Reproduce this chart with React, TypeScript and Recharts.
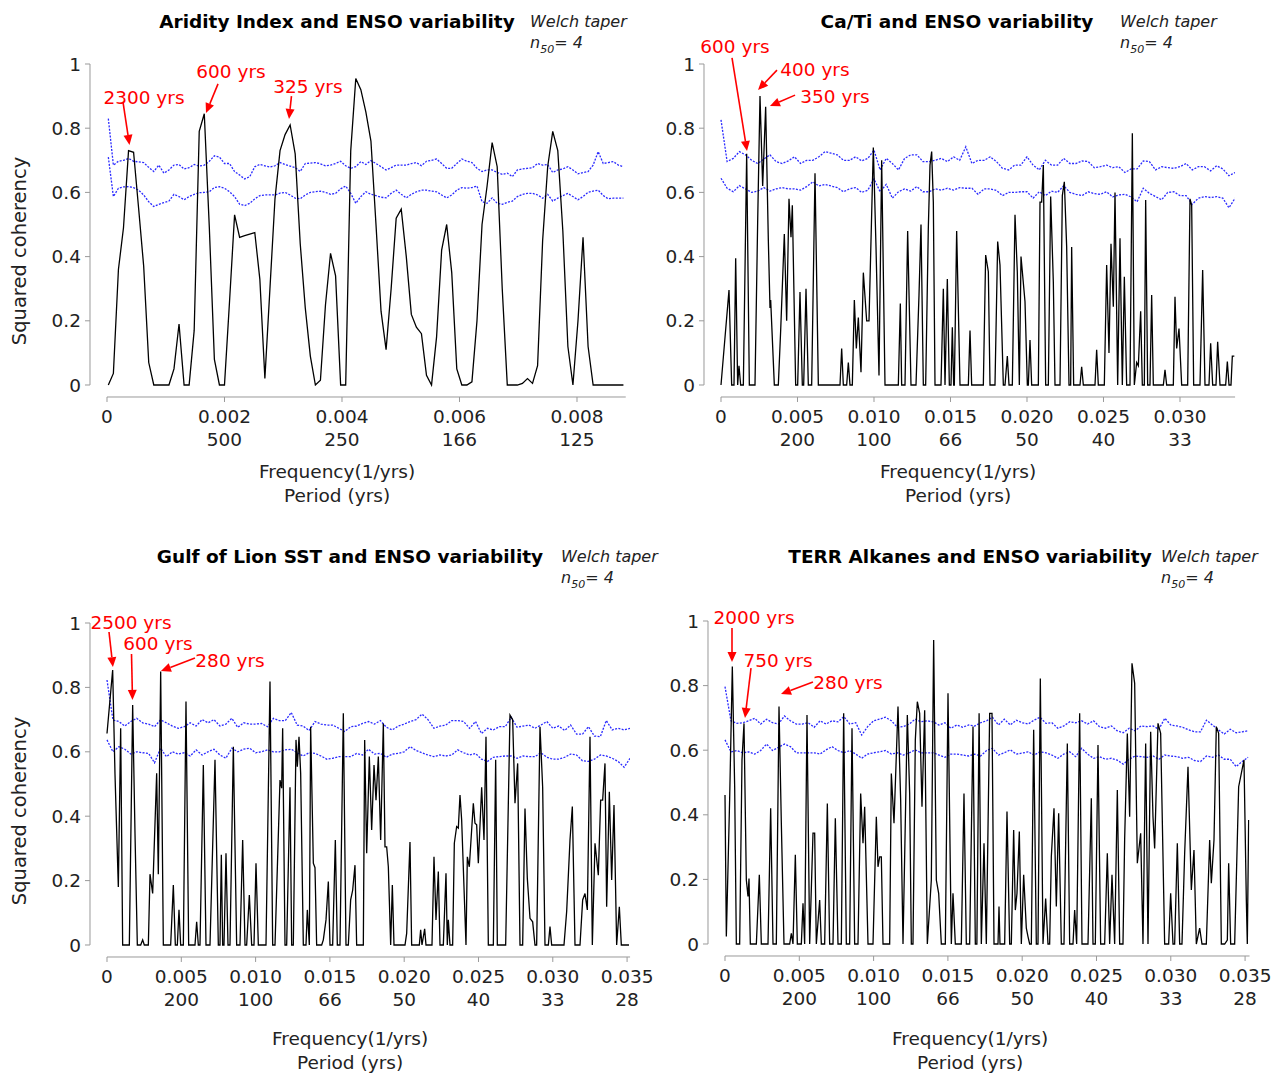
import React from 'react';
import { LineChart, Line, XAxis, YAxis, ReferenceLine, ReferenceDot } from 'recharts';

const FONT = '"DejaVu Sans", Verdana, sans-serif';

// ---------- Panel 1: Aridity Index (regular grid, frequency in 1e-3 / yr) ----------
const aridityStartK = 0.0227;
const aridityStepK = 0.08596;
const aridityCoherency = [
  0, 0.036, 0.36, 0.49, 0.73, 0.725, 0.55, 0.37, 0.07, 0,
  0, 0, 0, 0.05, 0.19, 0, 0, 0.17, 0.79, 0.845,
  0.49, 0.08, 0, 0, 0.26, 0.53, 0.46, 0.465, 0.47, 0.475,
  0.33, 0.02, 0.3, 0.58, 0.73, 0.78, 0.81, 0.72, 0.44, 0.24,
  0.09, 0, 0.015, 0.25, 0.41, 0.34, 0, 0, 0.73, 0.955,
  0.92, 0.85, 0.76, 0.5, 0.23, 0.11, 0.3, 0.52, 0.548, 0.4,
  0.22, 0.18, 0.16, 0.03, 0, 0.15, 0.42, 0.5, 0.35, 0.05,
  0, 0, 0.01, 0.2, 0.5, 0.62, 0.755, 0.68, 0.3, 0,
  0, 0, 0.005, 0.02, 0.005, 0.06, 0.45, 0.68, 0.79, 0.73,
  0.48, 0.12, 0, 0.2, 0.46, 0.12, 0, 0, 0, 0,
  0, 0, 0,
];
const aridityUpper = [
  0.83, 0.685, 0.697, 0.7, 0.706, 0.697, 0.695, 0.693, 0.678, 0.665,
  0.685, 0.66, 0.67, 0.685, 0.687, 0.673, 0.677, 0.687, 0.682, 0.685,
  0.697, 0.714, 0.71, 0.69, 0.69, 0.665, 0.654, 0.642, 0.649, 0.68,
  0.687, 0.683, 0.679, 0.683, 0.693, 0.687, 0.682, 0.677, 0.665, 0.69,
  0.691, 0.693, 0.689, 0.683, 0.685, 0.69, 0.697, 0.683, 0.675, 0.68,
  0.696, 0.687, 0.699, 0.69, 0.68, 0.67, 0.677, 0.685, 0.685, 0.685,
  0.69, 0.693, 0.683, 0.697, 0.7, 0.704, 0.69, 0.675, 0.675, 0.69,
  0.704, 0.697, 0.693, 0.675, 0.665, 0.67, 0.67, 0.662, 0.656, 0.66,
  0.649, 0.67, 0.673, 0.675, 0.677, 0.69, 0.685, 0.687, 0.662, 0.67,
  0.673, 0.68, 0.67, 0.658, 0.662, 0.665, 0.685, 0.727, 0.69, 0.693,
  0.696, 0.685, 0.68,
];
const aridityLower = [
  0.71, 0.587, 0.613, 0.617, 0.618, 0.615, 0.607, 0.592, 0.571, 0.556,
  0.563, 0.568, 0.573, 0.594, 0.587, 0.577, 0.587, 0.594, 0.599, 0.6,
  0.602, 0.615, 0.618, 0.613, 0.602, 0.587, 0.563, 0.559, 0.566, 0.58,
  0.59, 0.592, 0.592, 0.592, 0.598, 0.6, 0.592, 0.582, 0.58, 0.592,
  0.6, 0.602, 0.604, 0.6, 0.594, 0.597, 0.611, 0.62, 0.597, 0.566,
  0.587, 0.602, 0.594, 0.59, 0.585, 0.583, 0.597, 0.607, 0.594, 0.583,
  0.594, 0.602, 0.607, 0.607, 0.604, 0.602, 0.592, 0.583, 0.592, 0.607,
  0.615, 0.613, 0.615, 0.62, 0.571, 0.566, 0.583, 0.566, 0.563, 0.569,
  0.573, 0.587, 0.594, 0.597, 0.597, 0.592, 0.582, 0.594, 0.573, 0.582,
  0.59, 0.597, 0.587, 0.577, 0.587, 0.6, 0.604, 0.607, 0.59, 0.58,
  0.582, 0.582, 0.582,
];

// ---------- Panel 2: Ca/Ti (coherency vertices [freq 1e-3/yr, value]) ----------
const caTiCoherency: [number, number][] = [
  [0, 0], [0.523, 0.296], [0.697, 0], [0.85, 0], [0.959, 0.395], [1.089, 0], [1.176, 0.06], [1.285, 0],
  [1.46, 0], [1.678, 0.72], [1.852, 0], [2.222, 0], [2.397, 0.51], [2.549, 0.9], [2.723, 0.62], [2.919, 0.867],
  [3.094, 0.45], [3.203, 0.24], [3.246, 0.265], [3.486, 0], [3.747, 0], [3.9, 0.17], [4.139, 0.47], [4.292, 0.2],
  [4.444, 0.58], [4.575, 0.46], [4.662, 0.56], [4.88, 0], [5.011, 0], [5.163, 0.29], [5.316, 0], [5.403, 0],
  [5.556, 0.3], [5.708, 0], [5.926, 0], [6.144, 0.66], [6.362, 0], [7.778, 0], [7.887, 0.114], [7.996, 0],
  [8.214, 0], [8.322, 0.07], [8.431, 0], [8.584, 0], [8.715, 0.265], [8.845, 0.114], [8.976, 0.21], [9.15, 0.04],
  [9.303, 0.35], [9.521, 0.2], [9.673, 0.2], [9.804, 0.45], [9.956, 0.74], [10.131, 0.43], [10.327, 0.03], [10.501, 0.7],
  [10.719, 0], [11.59, 0], [11.721, 0.254], [11.808, 0], [12.026, 0], [12.2, 0.48], [12.418, 0], [12.745, 0],
  [12.941, 0.28], [13.072, 0.5], [13.224, 0], [13.377, 0], [13.551, 0.49], [13.66, 0.685], [13.769, 0.727], [13.878, 0.57],
  [13.987, 0], [14.379, 0], [14.532, 0.3], [14.641, 0], [14.793, 0.33], [14.924, 0], [15.033, 0], [15.12, 0.18],
  [15.207, 0], [15.251, 0], [15.403, 0.48], [15.621, 0], [16.166, 0], [16.275, 0.17], [16.383, 0], [17.146, 0],
  [17.298, 0.405], [17.473, 0.353], [17.582, 0], [17.908, 0], [18.083, 0.447], [18.235, 0.374], [18.453, 0], [18.562, 0],
  [18.715, 0.09], [18.824, 0], [19.041, 0], [19.216, 0.53], [19.368, 0.35], [19.499, 0], [19.608, 0.4], [19.869, 0.26],
  [20.022, 0], [20.087, 0], [20.196, 0.14], [20.305, 0], [20.741, 0], [20.85, 0.57], [20.959, 0.57], [21.068, 0.685],
  [21.22, 0], [21.394, 0], [21.547, 0.587], [21.721, 0.32], [21.83, 0], [22.157, 0], [22.309, 0.59], [22.44, 0.633],
  [22.593, 0.43], [22.745, 0], [22.854, 0], [22.919, 0.43], [23.05, 0], [23.464, 0], [23.573, 0.057], [23.682, 0],
  [24.444, 0], [24.553, 0.11], [24.662, 0], [25.054, 0], [25.207, 0.374], [25.359, 0.1], [25.49, 0.44], [25.643, 0.244],
  [25.752, 0.6], [25.926, 0], [26.078, 0.457], [26.231, 0], [26.362, 0.337], [26.514, 0], [26.732, 0], [26.885, 0.784],
  [27.015, 0], [27.168, 0.07], [27.277, 0.06], [27.429, 0.23], [27.538, 0], [27.669, 0], [27.756, 0.576], [27.887, 0],
  [28.039, 0], [28.148, 0.28], [28.257, 0], [28.911, 0], [29.02, 0.047], [29.129, 0], [29.564, 0], [29.673, 0.275],
  [29.782, 0.114], [29.935, 0.176], [30.109, 0], [30.501, 0], [30.654, 0.58], [30.763, 0.56], [30.893, 0], [31.307, 0],
  [31.481, 0.358], [31.634, 0], [31.895, 0], [32.004, 0.13], [32.135, 0], [32.353, 0], [32.462, 0.135], [32.614, 0],
  [32.985, 0], [33.094, 0.073], [33.203, 0], [33.333, 0], [33.42, 0.09], [33.551, 0.09],
];
const bandStepK = 0.4;
const caTiUpper = [
  0.826, 0.696, 0.706, 0.727, 0.717, 0.7, 0.69, 0.704, 0.717, 0.696,
  0.69, 0.698, 0.711, 0.69, 0.7, 0.7, 0.711, 0.727, 0.722, 0.717,
  0.7, 0.7, 0.711, 0.698, 0.706, 0.732, 0.67, 0.706, 0.69, 0.67,
  0.706, 0.717, 0.717, 0.696, 0.696, 0.7, 0.706, 0.696, 0.711, 0.7,
  0.742, 0.69, 0.7, 0.7, 0.711, 0.696, 0.675, 0.67, 0.685, 0.685,
  0.711, 0.685, 0.67, 0.7, 0.685, 0.685, 0.706, 0.69, 0.69, 0.698,
  0.696, 0.677, 0.68, 0.685, 0.677, 0.68, 0.662, 0.673, 0.673, 0.698,
  0.696, 0.67, 0.68, 0.677, 0.675, 0.68, 0.69, 0.67, 0.68, 0.68,
  0.667, 0.683, 0.673, 0.652, 0.662,
];
const caTiLower = [
  0.644, 0.613, 0.602, 0.621, 0.611, 0.6, 0.604, 0.615, 0.604, 0.611,
  0.615, 0.611, 0.611, 0.607, 0.618, 0.633, 0.62, 0.625, 0.62, 0.615,
  0.602, 0.611, 0.615, 0.6, 0.607, 0.642, 0.602, 0.625, 0.582, 0.602,
  0.611, 0.604, 0.618, 0.602, 0.602, 0.611, 0.607, 0.613, 0.607, 0.615,
  0.613, 0.613, 0.594, 0.611, 0.611, 0.606, 0.59, 0.6, 0.6, 0.602,
  0.602, 0.582, 0.602, 0.59, 0.604, 0.6, 0.621, 0.6, 0.594, 0.59,
  0.602, 0.596, 0.594, 0.602, 0.586, 0.592, 0.594, 0.586, 0.571, 0.613,
  0.597, 0.587, 0.577, 0.6, 0.602, 0.59, 0.59, 0.563, 0.582, 0.587,
  0.584, 0.587, 0.582, 0.552, 0.582,
];

// ---------- Panel 3: Gulf of Lion SST ----------
const sstCoherency: [number, number][] = [
  [0, 0.657], [0.381, 0.854], [0.538, 0.53], [0.763, 0.18], [0.92, 0.673], [1.054, 0], [1.503, 0], [1.727, 0.745],
  [1.884, 0.347], [2.041, 0], [2.266, 0], [2.4, 0.016], [2.512, 0], [2.782, 0], [2.894, 0.22], [3.073, 0.16],
  [3.342, 0.533], [3.454, 0.22], [3.612, 0.849], [3.791, 0], [4.284, 0], [4.464, 0.186], [4.599, 0], [4.733, 0],
  [4.845, 0.109], [4.957, 0], [5.137, 0], [5.316, 0.756], [5.496, 0], [5.922, 0], [6.034, 0.072], [6.146, 0],
  [6.258, 0], [6.483, 0.559], [6.662, 0], [6.931, 0], [7.268, 0.575], [7.492, 0], [7.604, 0], [7.694, 0.28],
  [7.784, 0], [7.873, 0], [8.008, 0.285], [8.143, 0], [8.277, 0], [8.502, 0.616], [8.726, 0], [8.95, 0],
  [9.13, 0.326], [9.287, 0], [9.399, 0], [9.578, 0.155], [9.735, 0], [9.892, 0], [10.027, 0.254], [10.184, 0],
  [10.7, 0], [10.969, 0.818], [11.149, 0], [11.306, 0], [11.642, 0.512], [11.754, 0.487], [11.821, 0.673], [11.979, 0],
  [12.091, 0], [12.315, 0.49], [12.427, 0], [12.539, 0], [12.719, 0.637], [12.808, 0.554], [12.921, 0.647], [13.033, 0.533],
  [13.212, 0], [13.392, 0], [13.481, 0.109], [13.616, 0], [13.705, 0.678], [13.885, 0.254], [13.997, 0.24], [14.109, 0],
  [14.446, 0], [14.558, 0.016], [14.738, 0.078], [14.895, 0.197], [15.007, 0], [15.186, 0], [15.366, 0.326], [15.5, 0],
  [15.68, 0], [15.904, 0.72], [16.083, 0], [16.24, 0], [16.397, 0.14], [16.532, 0.17], [16.689, 0.248], [16.801, 0],
  [17.25, 0], [17.34, 0.637], [17.475, 0.285], [17.654, 0.585], [17.811, 0.357], [17.969, 0.559], [18.103, 0.45], [18.26, 0.585],
  [18.417, 0.326], [18.596, 0.688], [18.708, 0.305], [18.82, 0.305], [18.933, 0.243], [19.09, 0], [19.202, 0.186], [19.314, 0],
  [20.054, 0], [20.166, 0.036], [20.39, 0.32], [20.502, 0], [21.018, 0], [21.108, 0.047], [21.198, 0], [21.377, 0.05],
  [21.467, 0], [21.871, 0], [22.005, 0.274], [22.14, 0.078], [22.297, 0.228], [22.409, 0], [22.633, 0], [22.813, 0.223],
  [22.902, 0], [22.97, 0.078], [23.082, 0], [23.261, 0], [23.374, 0.316], [23.531, 0.368], [23.643, 0.363], [23.755, 0.466],
  [23.867, 0.388], [24.159, 0], [24.249, 0.274], [24.383, 0.243], [24.652, 0.44], [24.764, 0.378], [24.877, 0.373], [24.989, 0.254],
  [25.213, 0.49], [25.37, 0.326], [25.505, 0.647], [25.662, 0], [25.999, 0], [26.156, 0.575], [26.268, 0], [26.828, 0],
  [27.12, 0.714], [27.299, 0.7], [27.456, 0.44], [27.636, 0.564], [27.793, 0], [27.972, 0], [28.129, 0.424], [28.286, 0.207],
  [28.466, 0.083], [28.645, 0.072], [28.802, 0], [28.914, 0], [29.139, 0.678], [29.318, 0.49], [29.475, 0], [29.7, 0],
  [29.812, 0.057], [29.924, 0], [30.754, 0], [30.933, 0.104], [31.158, 0.326], [31.315, 0.43], [31.494, 0], [31.831, 0],
  [32.01, 0.14], [32.167, 0.16], [32.324, 0.109], [32.504, 0.647], [32.661, 0], [32.84, 0.316], [33.064, 0.217], [33.221, 0.45],
  [33.356, 0.45], [33.513, 0.564], [33.625, 0.119], [33.805, 0.476], [33.962, 0.202], [34.119, 0.435], [34.298, 0], [34.478, 0.119],
  [34.612, 0], [35.128, 0],
];
const sstUpper = [
  0.823, 0.699, 0.694, 0.68, 0.694, 0.704, 0.69, 0.686, 0.678, 0.699,
  0.69, 0.68, 0.673, 0.678, 0.69, 0.68, 0.7, 0.69, 0.7, 0.68,
  0.686, 0.704, 0.676, 0.69, 0.686, 0.686, 0.688, 0.678, 0.704, 0.697,
  0.697, 0.722, 0.683, 0.68, 0.666, 0.694, 0.686, 0.683, 0.683, 0.673,
  0.663, 0.678, 0.68, 0.688, 0.694, 0.686, 0.697, 0.676, 0.668, 0.68,
  0.686, 0.694, 0.7, 0.717, 0.7, 0.673, 0.68, 0.683, 0.697, 0.697,
  0.694, 0.673, 0.694, 0.657, 0.673, 0.668, 0.678, 0.678, 0.707, 0.676,
  0.68, 0.683, 0.673, 0.683, 0.694, 0.673, 0.68, 0.666, 0.683, 0.655,
  0.655, 0.678, 0.649, 0.647, 0.697, 0.668, 0.673, 0.668, 0.673,
];
const sstLower = [
  0.637, 0.6, 0.616, 0.608, 0.593, 0.6, 0.597, 0.595, 0.566, 0.611,
  0.585, 0.6, 0.593, 0.597, 0.587, 0.606, 0.59, 0.6, 0.608, 0.59,
  0.58, 0.611, 0.6, 0.608, 0.611, 0.597, 0.6, 0.606, 0.6, 0.6,
  0.606, 0.608, 0.597, 0.587, 0.597, 0.595, 0.587, 0.577, 0.58, 0.585,
  0.585, 0.585, 0.595, 0.59, 0.608, 0.593, 0.595, 0.583, 0.593, 0.595,
  0.6, 0.616, 0.604, 0.597, 0.59, 0.585, 0.59, 0.587, 0.59, 0.606,
  0.597, 0.59, 0.595, 0.577, 0.57, 0.583, 0.585, 0.587, 0.587, 0.58,
  0.587, 0.585, 0.585, 0.597, 0.583, 0.577, 0.577, 0.583, 0.593, 0.59,
  0.572, 0.57, 0.577, 0.59, 0.587, 0.58, 0.57, 0.552, 0.58,
];

// ---------- Panel 4: TERR Alkanes ----------
const terrCoherency: [number, number][] = [
  [0, 0.461], [0.09, 0.023], [0.314, 0.45], [0.493, 0.859], [0.651, 0.487], [0.763, 0], [0.987, 0], [1.144, 0.57],
  [1.279, 0.683], [1.436, 0.198], [1.548, 0.147], [1.615, 0.203], [1.705, 0], [2.109, 0], [2.31, 0.214], [2.445, 0],
  [2.894, 0], [3.073, 0.42], [3.23, 0], [3.454, 0], [3.634, 0.735], [3.791, 0.374], [3.97, 0], [4.352, 0],
  [4.464, 0.033], [4.576, 0], [4.733, 0.276], [4.868, 0], [5.137, 0], [5.249, 0.126], [5.361, 0], [5.518, 0.709],
  [5.698, 0], [5.922, 0.343], [6.034, 0.343], [6.146, 0], [6.371, 0.136], [6.483, 0], [6.707, 0], [6.887, 0.435],
  [7.043, 0], [7.268, 0], [7.425, 0.389], [7.604, 0], [7.829, 0], [7.986, 0.714], [8.165, 0], [8.389, 0],
  [8.547, 0.668], [8.726, 0], [8.95, 0], [9.13, 0.466], [9.287, 0.312], [9.399, 0.425], [9.623, 0], [9.96, 0],
  [10.184, 0.394], [10.296, 0.239], [10.408, 0.27], [10.52, 0.27], [10.633, 0], [11.081, 0], [11.193, 0.528], [11.373, 0.374],
  [11.642, 0.735], [11.821, 0.446], [11.979, 0], [12.27, 0.709], [12.427, 0.466], [12.539, 0], [12.651, 0], [12.808, 0.632],
  [12.943, 0.75], [13.1, 0.714], [13.257, 0.425], [13.437, 0.724], [13.616, 0], [13.885, 0.198], [14.042, 0.941], [14.222, 0.198],
  [14.379, 0.157], [14.558, 0], [14.827, 0], [15.007, 0.776], [15.231, 0], [15.343, 0.157], [15.5, 0], [15.904, 0],
  [16.083, 0.466], [16.24, 0], [16.465, 0], [16.689, 0.673], [16.846, 0], [16.95, 0], [17.1, 0.714], [17.25, 0],
  [17.43, 0.312], [17.586, 0], [17.811, 0.714], [17.968, 0.714], [18.103, 0], [18.372, 0], [18.439, 0.116], [18.506, 0],
  [18.82, 0], [18.977, 0.41], [19.157, 0], [19.269, 0], [19.426, 0.353], [19.538, 0.105], [19.65, 0.157], [19.807, 0.348],
  [19.942, 0], [20.099, 0.214], [20.278, 0.049], [20.39, 0.023], [20.502, 0], [20.615, 0], [20.772, 0.663], [20.951, 0],
  [21.063, 0], [21.22, 0.822], [21.4, 0], [21.579, 0.141], [21.736, 0], [21.848, 0], [21.96, 0.27], [22.14, 0.42],
  [22.297, 0.116], [22.454, 0.405], [22.633, 0], [22.813, 0], [23.037, 0.621], [23.194, 0], [23.419, 0], [23.531, 0.105],
  [23.665, 0], [23.867, 0.714], [24.024, 0], [24.428, 0], [24.652, 0.451], [24.764, 0], [24.921, 0], [25.101, 0.616],
  [25.28, 0], [25.549, 0], [25.729, 0.281], [25.886, 0], [26.043, 0.214], [26.223, 0], [26.402, 0.477], [26.559, 0],
  [26.783, 0], [26.896, 0.327], [27.075, 0.652], [27.232, 0.394], [27.389, 0.869], [27.569, 0.807], [27.748, 0.25], [27.972, 0.343],
  [28.129, 0], [28.309, 0.621], [28.466, 0], [28.645, 0.657], [28.802, 0.394], [28.914, 0.296], [29.139, 0.683], [29.318, 0.652],
  [29.587, 0], [29.857, 0], [29.991, 0.157], [30.148, 0], [30.26, 0], [30.44, 0.312], [30.597, 0], [30.754, 0],
  [30.933, 0.281], [31.158, 0.549], [31.382, 0.167], [31.561, 0.291], [31.718, 0], [31.943, 0.049], [32.1, 0], [32.391, 0],
  [32.616, 0.322], [32.728, 0.188], [32.907, 0.322], [33.064, 0.673], [33.221, 0.652], [33.401, 0], [33.625, 0], [33.805, 0.012],
  [33.894, 0.25], [34.029, 0], [34.298, 0], [34.567, 0.487], [34.746, 0.528], [34.926, 0.57], [35.083, 0.136], [35.15, 0],
  [35.24, 0.384],
];
const terrUpper = [
  0.797, 0.691, 0.683, 0.685, 0.691, 0.699, 0.681, 0.696, 0.685, 0.681,
  0.706, 0.691, 0.681, 0.681, 0.685, 0.671, 0.691, 0.681, 0.691, 0.688,
  0.704, 0.681, 0.685, 0.647, 0.673, 0.691, 0.696, 0.702, 0.691, 0.671,
  0.673, 0.681, 0.696, 0.688, 0.691, 0.688, 0.678, 0.685, 0.668, 0.678,
  0.671, 0.678, 0.675, 0.685, 0.691, 0.702, 0.678, 0.696, 0.678, 0.693,
  0.685, 0.681, 0.693, 0.702, 0.683, 0.685, 0.668, 0.675, 0.688, 0.685,
  0.691, 0.681, 0.691, 0.673, 0.668, 0.675, 0.66, 0.654, 0.668, 0.66,
  0.675, 0.673, 0.675, 0.665, 0.699, 0.678, 0.675, 0.671, 0.663, 0.657,
  0.657, 0.693, 0.678, 0.663, 0.65, 0.665, 0.654, 0.657, 0.66,
];
const terrLower = [
  0.632, 0.595, 0.599, 0.592, 0.595, 0.588, 0.599, 0.619, 0.599, 0.609,
  0.619, 0.611, 0.592, 0.592, 0.592, 0.592, 0.588, 0.601, 0.611, 0.599,
  0.592, 0.599, 0.588, 0.575, 0.588, 0.592, 0.595, 0.599, 0.588, 0.592,
  0.585, 0.592, 0.601, 0.592, 0.592, 0.592, 0.585, 0.578, 0.588, 0.588,
  0.585, 0.582, 0.588, 0.582, 0.599, 0.606, 0.585, 0.592, 0.601, 0.588,
  0.591, 0.595, 0.585, 0.595, 0.592, 0.585, 0.575, 0.588, 0.595, 0.58,
  0.606, 0.588, 0.575, 0.58, 0.572, 0.575, 0.569, 0.557, 0.572, 0.582,
  0.58, 0.578, 0.582, 0.572, 0.585, 0.582, 0.58, 0.575, 0.578, 0.568,
  0.565, 0.582, 0.578, 0.585, 0.572, 0.572, 0.549, 0.565, 0.578,
];

// ---------- Axis ticks ----------
const ticksShort = [0, 2, 4, 6, 8];
const freqLabelsShort = ['0', '0.002', '0.004', '0.006', '0.008'];
const periodLabelsShort = ['', '500', '250', '166', '125'];
const ticksLong = [0, 5, 10, 15, 20, 25, 30, 35];
const freqLabelsLong = ['0', '0.005', '0.010', '0.015', '0.020', '0.025', '0.030', '0.035'];
const periodLabelsLong = ['', '200', '100', '66', '50', '40', '33', '28'];
const yTicks = [0, 0.2, 0.4, 0.6, 0.8, 1];

// ---------- Annotations: [label, textK, textV, tailK, tailV, headK, headV] ----------
type Note = [string, number, number, number, number, number, number];
const aridityNotes: Note[] = [
  ['2300 yrs', 0.63, 0.894, 0.272, 0.882, 0.383, 0.748],
  ['600 yrs', 2.11, 0.978, 1.89, 0.938, 1.685, 0.847],
  ['325 yrs', 3.42, 0.931, 3.14, 0.9, 3.098, 0.829],
];
const caTiNotes: Note[] = [
  ['600 yrs', 0.915, 1.053, 0.72, 1.019, 1.7, 0.729],
  ['400 yrs', 6.14, 0.984, 3.66, 0.981, 2.42, 0.919],
  ['350 yrs', 7.45, 0.9, 4.84, 0.903, 3.2, 0.869],
];
const sstNotes: Note[] = [
  ['2500 yrs', 1.615, 1.003, 0.135, 0.972, 0.4, 0.863],
  ['600 yrs', 3.43, 0.935, 1.65, 0.904, 1.716, 0.761],
  ['280 yrs', 8.28, 0.885, 5.92, 0.891, 3.63, 0.851],
];
const terrNotes: Note[] = [
  ['2000 yrs', 1.95, 1.012, 0.471, 0.978, 0.471, 0.873],
  ['750 yrs', 3.57, 0.879, 1.75, 0.854, 1.346, 0.7],
  ['280 yrs', 8.28, 0.808, 5.92, 0.811, 3.77, 0.774],
];

type Pt = { k: number; v: number };
const fromGrid = (start: number, step: number, vals: number[]): Pt[] => vals.map((v, i) => ({ k: start + i * step, v }));
const fromPairs = (pairs: [number, number][]): Pt[] => pairs.map(([k, v]) => ({ k, v }));

type Layout = { axisX: number; zeroX: number; pxPerK: number; kMax: number; yTop: number; yZero: number; axisY: number };

const YW = 60;
const MT = 50;
const MR = 40;
const XH = 70;
const AXIS_GRAY = '#9a9a9a';
const TEXT_COLOR = '#222';

const arrowShape = (p: any) => {
  const { x1, y1, x2, y2 } = p;
  if ([x1, y1, x2, y2].some((n) => typeof n !== 'number' || isNaN(n))) return <g />;
  const ang = Math.atan2(y2 - y1, x2 - x1);
  const L = 10;
  const W = 4.5;
  const bx = x2 - L * Math.cos(ang);
  const by = y2 - L * Math.sin(ang);
  const px = -Math.sin(ang) * W;
  const py = Math.cos(ang) * W;
  return (
    <g>
      <line x1={x1} y1={y1} x2={bx} y2={by} stroke="#ff0000" strokeWidth={1.6} />
      <polygon points={`${x2},${y2} ${bx + px},${by + py} ${bx - px},${by - py}`} fill="#ff0000" />
    </g>
  );
};

function Panel(props: {
  layout: Layout;
  coh: Pt[];
  upper: Pt[];
  lower: Pt[];
  ticks: number[];
  freqLabels: string[];
  periodLabels: string[];
  notes: Note[];
}) {
  const { layout, coh, upper, lower, ticks, freqLabels, periodLabels, notes } = props;
  const { axisX, zeroX, pxPerK, kMax, yTop, yZero, axisY } = layout;
  const rightX = zeroX + kMax * pxPerK;
  const plotW = rightX - axisX;
  const plotH = axisY - yTop;
  const kMin = -(zeroX - axisX) / pxPerK;
  const vMin = -(axisY - yZero) / (yZero - yTop);
  const W = YW + plotW + MR;
  const H = MT + plotH + XH;
  const axisLocalY = MT + plotH;

  const renderXTick = (p: any) => {
    const val = p.payload?.value;
    const i = ticks.indexOf(val);
    const x = p.x;
    return (
      <g>
        <line x1={x} y1={axisLocalY} x2={x} y2={axisLocalY + 5} stroke={AXIS_GRAY} />
        <text x={x} y={axisLocalY + 20} dy="0.35em" textAnchor="middle" fontSize={18.5} fontFamily={FONT} fill={TEXT_COLOR}>
          {freqLabels[i]}
        </text>
        {periodLabels[i] ? (
          <text x={x} y={axisLocalY + 43} dy="0.35em" textAnchor="middle" fontSize={18.5} fontFamily={FONT} fill={TEXT_COLOR}>
            {periodLabels[i]}
          </text>
        ) : null}
      </g>
    );
  };

  return (
    <div style={{ position: 'absolute', left: axisX - YW, top: yTop - MT }}>
      <LineChart width={W} height={H} margin={{ top: MT, right: MR, bottom: 0, left: 0 }}>
        <XAxis
          type="number"
          dataKey="k"
          domain={[kMin, kMax]}
          ticks={ticks}
          interval={0}
          allowDataOverflow
          height={XH}
          axisLine={false}
          tickLine={false}
          tickSize={0}
          tickMargin={0}
          tick={renderXTick}
        />
        <YAxis
          type="number"
          domain={[vMin, 1]}
          ticks={yTicks}
          interval={0}
          allowDataOverflow
          width={YW}
          axisLine={false}
          tickSize={5}
          tickMargin={4}
          tickLine={{ stroke: AXIS_GRAY }}
          tick={{ fill: TEXT_COLOR, fontSize: 18.5, fontFamily: FONT }}
          tickFormatter={(v: number) => (v === 0 ? '0' : v === 1 ? '1' : String(v))}
        />
        <ReferenceLine segment={[{ x: 0, y: vMin }, { x: kMax, y: vMin }]} stroke={AXIS_GRAY} ifOverflow="visible" />
        <ReferenceLine segment={[{ x: kMin, y: 0 }, { x: kMin, y: 1 }]} stroke={AXIS_GRAY} ifOverflow="visible" />
        <Line data={upper} dataKey="v" stroke="#2a2aff" strokeWidth={1.3} strokeDasharray="2 1.4" dot={false} activeDot={false} isAnimationActive={false} />
        <Line data={lower} dataKey="v" stroke="#2a2aff" strokeWidth={1.3} strokeDasharray="2 1.4" dot={false} activeDot={false} isAnimationActive={false} />
        <Line data={coh} dataKey="v" stroke="#000" strokeWidth={1.3} dot={false} activeDot={false} isAnimationActive={false} />
        {notes.map((n, i) => (
          <ReferenceLine
            key={'a' + i}
            segment={[{ x: n[3], y: n[4] }, { x: n[5], y: n[6] }]}
            ifOverflow="visible"
            shape={arrowShape}
          />
        ))}
        {notes.map((n, i) => (
          <ReferenceDot
            key={'t' + i}
            x={n[1]}
            y={n[2]}
            r={0}
            ifOverflow="visible"
            shape={(p: any) => (
              <text x={p.cx} y={p.cy} dy="0.35em" textAnchor="middle" fontSize={18.5} fontFamily={FONT} fill="#ff0000">
                {n[0]}
              </text>
            )}
          />
        ))}
      </LineChart>
    </div>
  );
}

const txt = (content: React.ReactNode, left: number, top: number, style: React.CSSProperties = {}, center = true) => (
  <div
    style={{
      position: 'absolute',
      left,
      top,
      transform: center ? 'translate(-50%, -50%)' : 'translate(0, -50%)',
      whiteSpace: 'nowrap',
      lineHeight: 1,
      fontFamily: FONT,
      color: TEXT_COLOR,
      fontSize: 18.5,
      ...style,
    }}
  >
    {content}
  </div>
);

const nLabel = (
  <span>
    n<sub style={{ fontSize: 11, verticalAlign: 'sub' }}>50</sub>= 4
  </span>
);

export default function App() {
  const titleStyle: React.CSSProperties = { fontWeight: 'bold', color: '#000', fontSize: 18.5 };
  const italic: React.CSSProperties = { fontStyle: 'italic', fontSize: 16, color: '#222' };
  return (
    <div style={{ position: 'absolute', left: 0, top: 0, width: 1272, height: 1073, background: '#fff', overflow: 'hidden' }}>
      <Panel
        layout={{ axisX: 90, zeroX: 107, pxPerK: 58.75, kMax: 8.83, yTop: 64, yZero: 385, axisY: 397 }}
        coh={fromGrid(aridityStartK, aridityStepK, aridityCoherency)}
        upper={fromGrid(aridityStartK, aridityStepK, aridityUpper)}
        lower={fromGrid(aridityStartK, aridityStepK, aridityLower)}
        ticks={ticksShort}
        freqLabels={freqLabelsShort}
        periodLabels={periodLabelsShort}
        notes={aridityNotes}
      />
      <Panel
        layout={{ axisX: 704, zeroX: 721, pxPerK: 15.3, kMax: 33.6, yTop: 64, yZero: 385, axisY: 397 }}
        coh={fromPairs(caTiCoherency)}
        upper={fromGrid(0, bandStepK, caTiUpper)}
        lower={fromGrid(0, bandStepK, caTiLower)}
        ticks={ticksLong.slice(0, 7)}
        freqLabels={freqLabelsLong}
        periodLabels={periodLabelsLong}
        notes={caTiNotes}
      />
      <Panel
        layout={{ axisX: 90, zeroX: 107, pxPerK: 14.86, kMax: 35.2, yTop: 623, yZero: 945, axisY: 957 }}
        coh={fromPairs(sstCoherency)}
        upper={fromGrid(0, bandStepK, sstUpper)}
        lower={fromGrid(0, bandStepK, sstLower)}
        ticks={ticksLong}
        freqLabels={freqLabelsLong}
        periodLabels={periodLabelsLong}
        notes={sstNotes}
      />
      <Panel
        layout={{ axisX: 708, zeroX: 725, pxPerK: 14.86, kMax: 35.3, yTop: 621, yZero: 944, axisY: 956 }}
        coh={fromPairs(terrCoherency)}
        upper={fromGrid(0, bandStepK, terrUpper)}
        lower={fromGrid(0, bandStepK, terrLower)}
        ticks={ticksLong}
        freqLabels={freqLabelsLong}
        periodLabels={periodLabelsLong}
        notes={terrNotes}
      />

      {txt('Aridity Index and ENSO variability', 337, 22, titleStyle)}
      {txt('Welch taper', 530, 22, italic, false)}
      {txt(nLabel, 530, 45, italic, false)}
      {txt('Ca/Ti and ENSO variability', 957, 22, titleStyle)}
      {txt('Welch taper', 1120, 22, italic, false)}
      {txt(nLabel, 1120, 45, italic, false)}
      {txt('Gulf of Lion SST and ENSO variability', 350, 557, titleStyle)}
      {txt('Welch taper', 561, 557, italic, false)}
      {txt(nLabel, 561, 580, italic, false)}
      {txt('TERR Alkanes and ENSO variability', 970, 557, titleStyle)}
      {txt('Welch taper', 1161, 557, italic, false)}
      {txt(nLabel, 1161, 580, italic, false)}

      {txt('Frequency(1/yrs)', 337, 472)}
      {txt('Period (yrs)', 337, 496)}
      {txt('Frequency(1/yrs)', 958, 472)}
      {txt('Period (yrs)', 958, 496)}
      {txt('Frequency(1/yrs)', 350, 1039)}
      {txt('Period (yrs)', 350, 1063)}
      {txt('Frequency(1/yrs)', 970, 1039)}
      {txt('Period (yrs)', 970, 1063)}

      {txt('Squared coherency', 20, 251, { transform: 'translate(-50%, -50%) rotate(-90deg)', fontSize: 19.5 })}
      {txt('Squared coherency', 20, 811, { transform: 'translate(-50%, -50%) rotate(-90deg)', fontSize: 19.5 })}
    </div>
  );
}
